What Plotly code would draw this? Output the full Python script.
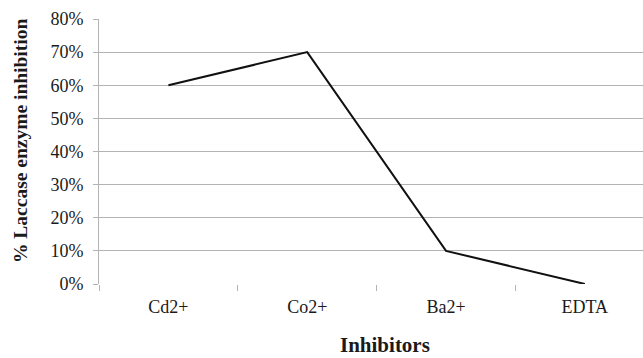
import plotly.graph_objects as go

categories = ["Cd2+", "Co2+", "Ba2+", "EDTA"]
inhibition = [0.60, 0.70, 0.10, 0.00]
y_tick_vals = [0, 0.1, 0.2, 0.3, 0.4, 0.5, 0.6, 0.7, 0.8]
y_tick_text = ["0%", "10%", "20%", "30%", "40%", "50%", "60%", "70%", "80%"]

FONT = "Liberation Serif"
GRID = "#b3b3b3"
TXT = "#1a1a1a"

fig = go.Figure()
fig.add_trace(go.Scatter(
    x=categories, y=inhibition, mode="lines",
    line=dict(color="#111111", width=2),
    showlegend=False, cliponaxis=False,
))

fig.update_layout(
    width=643, height=358,
    margin=dict(l=99, r=0, t=19, b=74),
    paper_bgcolor="white", plot_bgcolor="white",
    font=dict(family=FONT, size=18, color=TXT),
    xaxis=dict(
        type="category", categoryorder="array", categoryarray=categories,
        range=[-0.5, 3.419], tickson="boundaries",
        ticks="outside", ticklen=6, tickcolor=GRID, tickwidth=1,
        showgrid=False, showline=False, zeroline=False,
        ticklabelstandoff=10,
        tickfont=dict(family=FONT, size=18, color=TXT),
    ),
    yaxis=dict(
        range=[0, 0.8], tickvals=y_tick_vals, ticktext=y_tick_text,
        ticks="outside", ticklen=5, tickcolor=GRID, tickwidth=1,
        showgrid=True, gridcolor=GRID, gridwidth=1,
        showline=True, linecolor=GRID, linewidth=1,
        zeroline=False, ticklabelstandoff=6,
        tickfont=dict(family=FONT, size=18, color=TXT),
    ),
    annotations=[
        dict(text="<b>% Laccase enzyme inhibition</b>", xref="paper", yref="paper",
             x=-0.1452, y=0.5396, xanchor="center", yanchor="middle",
             textangle=-90, showarrow=False,
             font=dict(family=FONT, size=19.5, color=TXT)),
        dict(text="<b>Inhibitors</b>", xref="paper", yref="paper",
             x=0.5257, y=-0.2792, xanchor="center", yanchor="bottom",
             showarrow=False, borderpad=0,
             font=dict(family=FONT, size=21, color=TXT)),
    ],
)

fig.write_html("out.html")
